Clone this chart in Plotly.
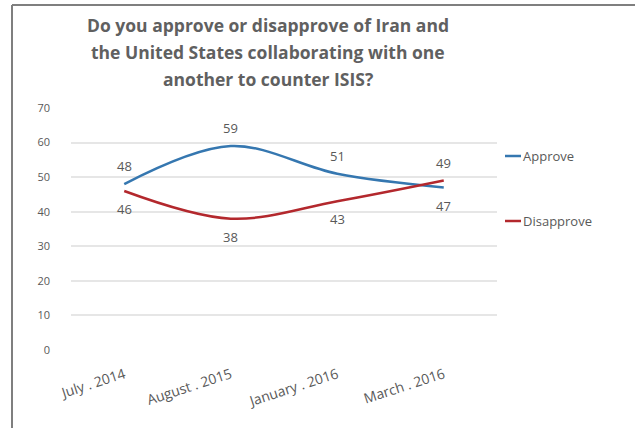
import plotly.graph_objects as go

categories = ["July . 2014", "August . 2015", "January . 2016", "March . 2016"]
approve = [48, 59, 51, 47]
disapprove = [46, 38, 43, 49]
approve_label_side = [1, 1, 1, -1]
disapprove_label_side = [-1, -1, -1, 1]
y_ticks = [0, 10, 20, 30, 40, 50, 60, 70]
title_lines = ["Do you approve or disapprove of Iran and",
               "the United States collaborating with one",
               "another to counter ISIS?"]

W, H = 635, 428
L, R, T, B = 71, 497, 108, 350
pw, ph = R - L, B - T

def px(x):
    return (x - L) / pw

def py(y):
    return (B - y) / ph

BLUE = "#3577b0"
RED = "#b3282d"
GRAY = "#595959"
FONT = "Open Sans, Lato, sans-serif"

fig = go.Figure()
fig.add_trace(go.Scatter(
    x=categories, y=approve, name="Approve", mode="lines",
    line=dict(color=BLUE, width=2.5, shape="spline", smoothing=1.0),
    hoverinfo="skip",
))
fig.add_trace(go.Scatter(
    x=categories, y=disapprove, name="Disapprove", mode="lines",
    line=dict(color=RED, width=2.5, shape="spline", smoothing=1.0),
    hoverinfo="skip",
))

for vals, sides in ((approve, approve_label_side), (disapprove, disapprove_label_side)):
    for c, v, s in zip(categories, vals, sides):
        fig.add_annotation(x=c, y=v, text=str(v), showarrow=False,
                           yshift=18 * s, xanchor="center", yanchor="middle",
                           font=dict(size=13, color=GRAY, family=FONT))

# title
title_y = [25, 52, 79]
for line, yy in zip(title_lines, title_y):
    fig.add_annotation(text="<b>%s</b>" % line, xref="paper", yref="paper",
                       x=px(268), y=py(yy), showarrow=False,
                       xanchor="center", yanchor="middle",
                       font=dict(size=17.5, color="#606060", family=FONT))

# legend (manual)
leg = [("Approve", BLUE, 156), ("Disapprove", RED, 221)]
for name, col, yy in leg:
    fig.add_shape(type="line", xref="paper", yref="paper",
                  x0=px(505), x1=px(521), y0=py(yy), y1=py(yy),
                  line=dict(color=col, width=2.5))
    fig.add_annotation(text=name, xref="paper", yref="paper",
                       x=px(521), y=py(yy), showarrow=False,
                       xanchor="left", yanchor="middle",
                       font=dict(size=13, color=GRAY, family=FONT))

# border
fig.add_shape(type="line", xref="paper", yref="paper",
              x0=px(12), x1=px(635), y0=py(5), y1=py(5),
              line=dict(color="#7f7f7f", width=2))
fig.add_shape(type="line", xref="paper", yref="paper",
              x0=px(12), x1=px(12), y0=py(5), y1=py(430),
              line=dict(color="#7f7f7f", width=2))

fig.update_layout(
    width=W, height=H,
    margin=dict(l=L, r=W - R, t=T, b=H - B, pad=0),
    paper_bgcolor="white", plot_bgcolor="white",
    showlegend=False,
    font=dict(family=FONT, color=GRAY),
)
fig.update_xaxes(type="category", tickangle=-18, showgrid=False, showline=False,
                 zeroline=False, ticks="", tickfont=dict(size=14, color=GRAY, family=FONT),
                 ticklabelstandoff=13, range=[-0.5, 3.5], fixedrange=True)
fig.update_yaxes(range=[0, 70], tickvals=y_ticks, showgrid=True, gridcolor="#e6e6e6",
                 gridwidth=1.5, zeroline=False, showline=False, ticks="",
                 tickfont=dict(size=11, color=GRAY, family=FONT), ticklabelstandoff=20,
                 fixedrange=True)

fig.write_html("out.html", config={"displayModeBar": False},
               post_script="document.body.style.margin='0';document.body.style.padding='0';")
